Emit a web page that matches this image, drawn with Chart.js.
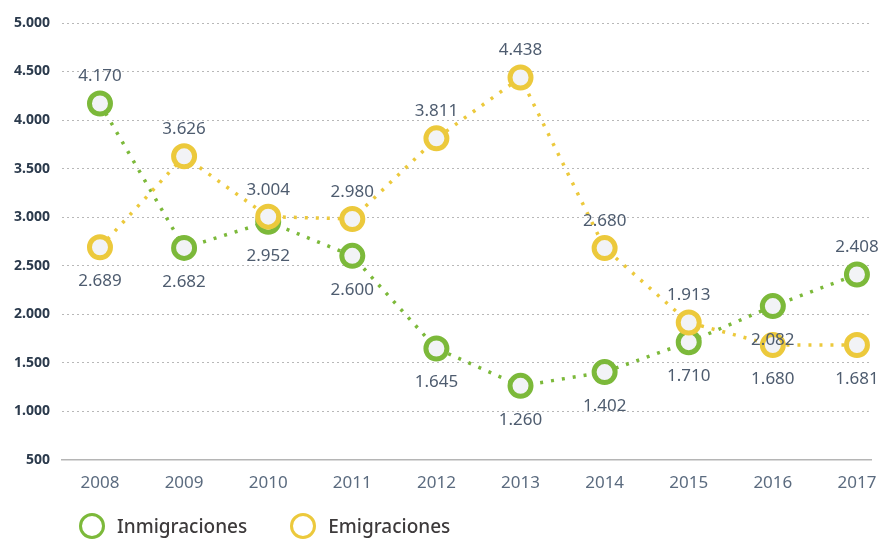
<!DOCTYPE html>
<html>
<head>
<meta charset="utf-8">
<script src="https://cdn.jsdelivr.net/npm/chart.js@4.4.0/dist/chart.umd.min.js"></script>
<style>
  html, body { margin: 0; padding: 0; background: #fff; overflow: hidden; }
  #wrap { position: relative; width: 887px; height: 539px; }
  #legend { position: absolute; left: 79px; top: 513px; display: flex; align-items: center;
            font-family: "Noto Sans", "Open Sans", sans-serif; font-size: 19px; font-weight: 500; color: #3d3a3b; }
  #legend .item { display: flex; align-items: center; margin-right: 43px; }
  #legend .dot { width: 20px; height: 20px; border-radius: 50%; border: 3px solid; background: #fff; margin-right: 12px; }
</style>
</head>
<body>
<div id="wrap">
  <canvas id="myChart" width="887" height="539"></canvas>
  <div id="legend"></div>
</div>
<script>
const years = [2008, 2009, 2010, 2011, 2012, 2013, 2014, 2015, 2016, 2017];
const inmigraciones = [4170, 2682, 2952, 2600, 1645, 1260, 1402, 1710, 2082, 2408];
const emigraciones = [2689, 3626, 3004, 2980, 3811, 4438, 2680, 1913, 1680, 1681];
const yTicks = [500, 1000, 1500, 2000, 2500, 3000, 3500, 4000, 4500, 5000];

// where each value label sits: 'up' above the point, 'down' below
const inmigLabelPos = ['up', 'down', 'down', 'down', 'down', 'down', 'down', 'down', 'down', 'up'];
const emigLabelPos = ['down', 'up', 'up', 'up', 'up', 'up', 'up', 'up', 'down', 'down'];

const fmt = v => String(Math.round(v)).replace(/\B(?=(\d{3})+(?!\d))/g, '.');
const FONT = '"Noto Sans", "Open Sans", sans-serif';

const valueLabels = {
  id: 'valueLabels',
  afterDatasetsDraw(chart) {
    const ctx = chart.ctx;
    ctx.save();
    ctx.font = '17px ' + FONT;
    ctx.fillStyle = '#4e5c6f';
    ctx.textAlign = 'center';
    ctx.textBaseline = 'middle';
    chart.data.datasets.forEach((ds, i) => {
      const meta = chart.getDatasetMeta(i);
      meta.data.forEach((pt, j) => {
        const dy = ds.labelPos[j] === 'up' ? -27 : 34;
        ctx.fillText(fmt(ds.data[j].y), pt.x, pt.y + dy);
      });
    });
    ctx.restore();
  }
};

// html legend built from the chart's datasets
const htmlLegend = {
  id: 'htmlLegend',
  afterUpdate(chart) {
    const box = document.getElementById('legend');
    box.innerHTML = '';
    chart.data.datasets.forEach(ds => {
      const item = document.createElement('div');
      item.className = 'item';
      const dot = document.createElement('span');
      dot.className = 'dot';
      dot.style.borderColor = ds.borderColor;
      item.appendChild(dot);
      item.appendChild(document.createTextNode(ds.label));
      box.appendChild(item);
    });
  }
};

const mk = (label, values, color, pos, order) => ({
  label,
  data: values.map((v, i) => ({ x: years[i], y: v })),
  labelPos: pos,
  order,
  borderColor: color,
  backgroundColor: '#f2f3f6',
  borderWidth: 3.5,
  borderDash: [3, 8],
  borderCapStyle: 'butt',
  pointRadius: 10.5,
  pointBorderWidth: 5,
  pointBorderColor: color,
  pointBackgroundColor: '#f2f3f6',
  tension: 0,
  fill: false
});

const config = {
  type: 'line',
  data: {
    datasets: [
      mk('Inmigraciones', inmigraciones, '#7cb93a', inmigLabelPos, 1),
      mk('Emigraciones', emigraciones, '#ecc93c', emigLabelPos, 0)
    ]
  },
  options: {
    responsive: false,
    animation: false,
    layout: { padding: { top: 23, right: 0, left: 2, bottom: 41 } },
    plugins: {
      tooltip: { enabled: false },
      legend: { display: false }
    },
    scales: {
      x: {
        type: 'linear',
        min: 2007.548,
        max: 2017.173,
        grid: { display: false },
        border: { display: true, color: '#b5b5b5', width: 1.5 },
        ticks: {
          stepSize: 1,
          includeBounds: false,
          padding: 5,
          color: '#5b6b7f',
          font: { family: FONT, size: 17 },
          callback: v => String(v)
        }
      },
      y: {
        min: 500,
        max: 5000,
        afterBuildTicks: axis => { axis.ticks = yTicks.map(v => ({ value: v })); },
        grid: { color: '#b8b8b8', lineWidth: 1, drawTicks: false },
        border: { display: false, dash: [2, 3] },
        ticks: {
          padding: 12,
          color: '#2b3a4c',
          font: { family: FONT, size: 14, weight: 'bold' },
          callback: v => fmt(v)
        }
      }
    }
  },
  plugins: [valueLabels, htmlLegend]
};

new Chart(document.getElementById('myChart'), config);
</script>
</body>
</html>
